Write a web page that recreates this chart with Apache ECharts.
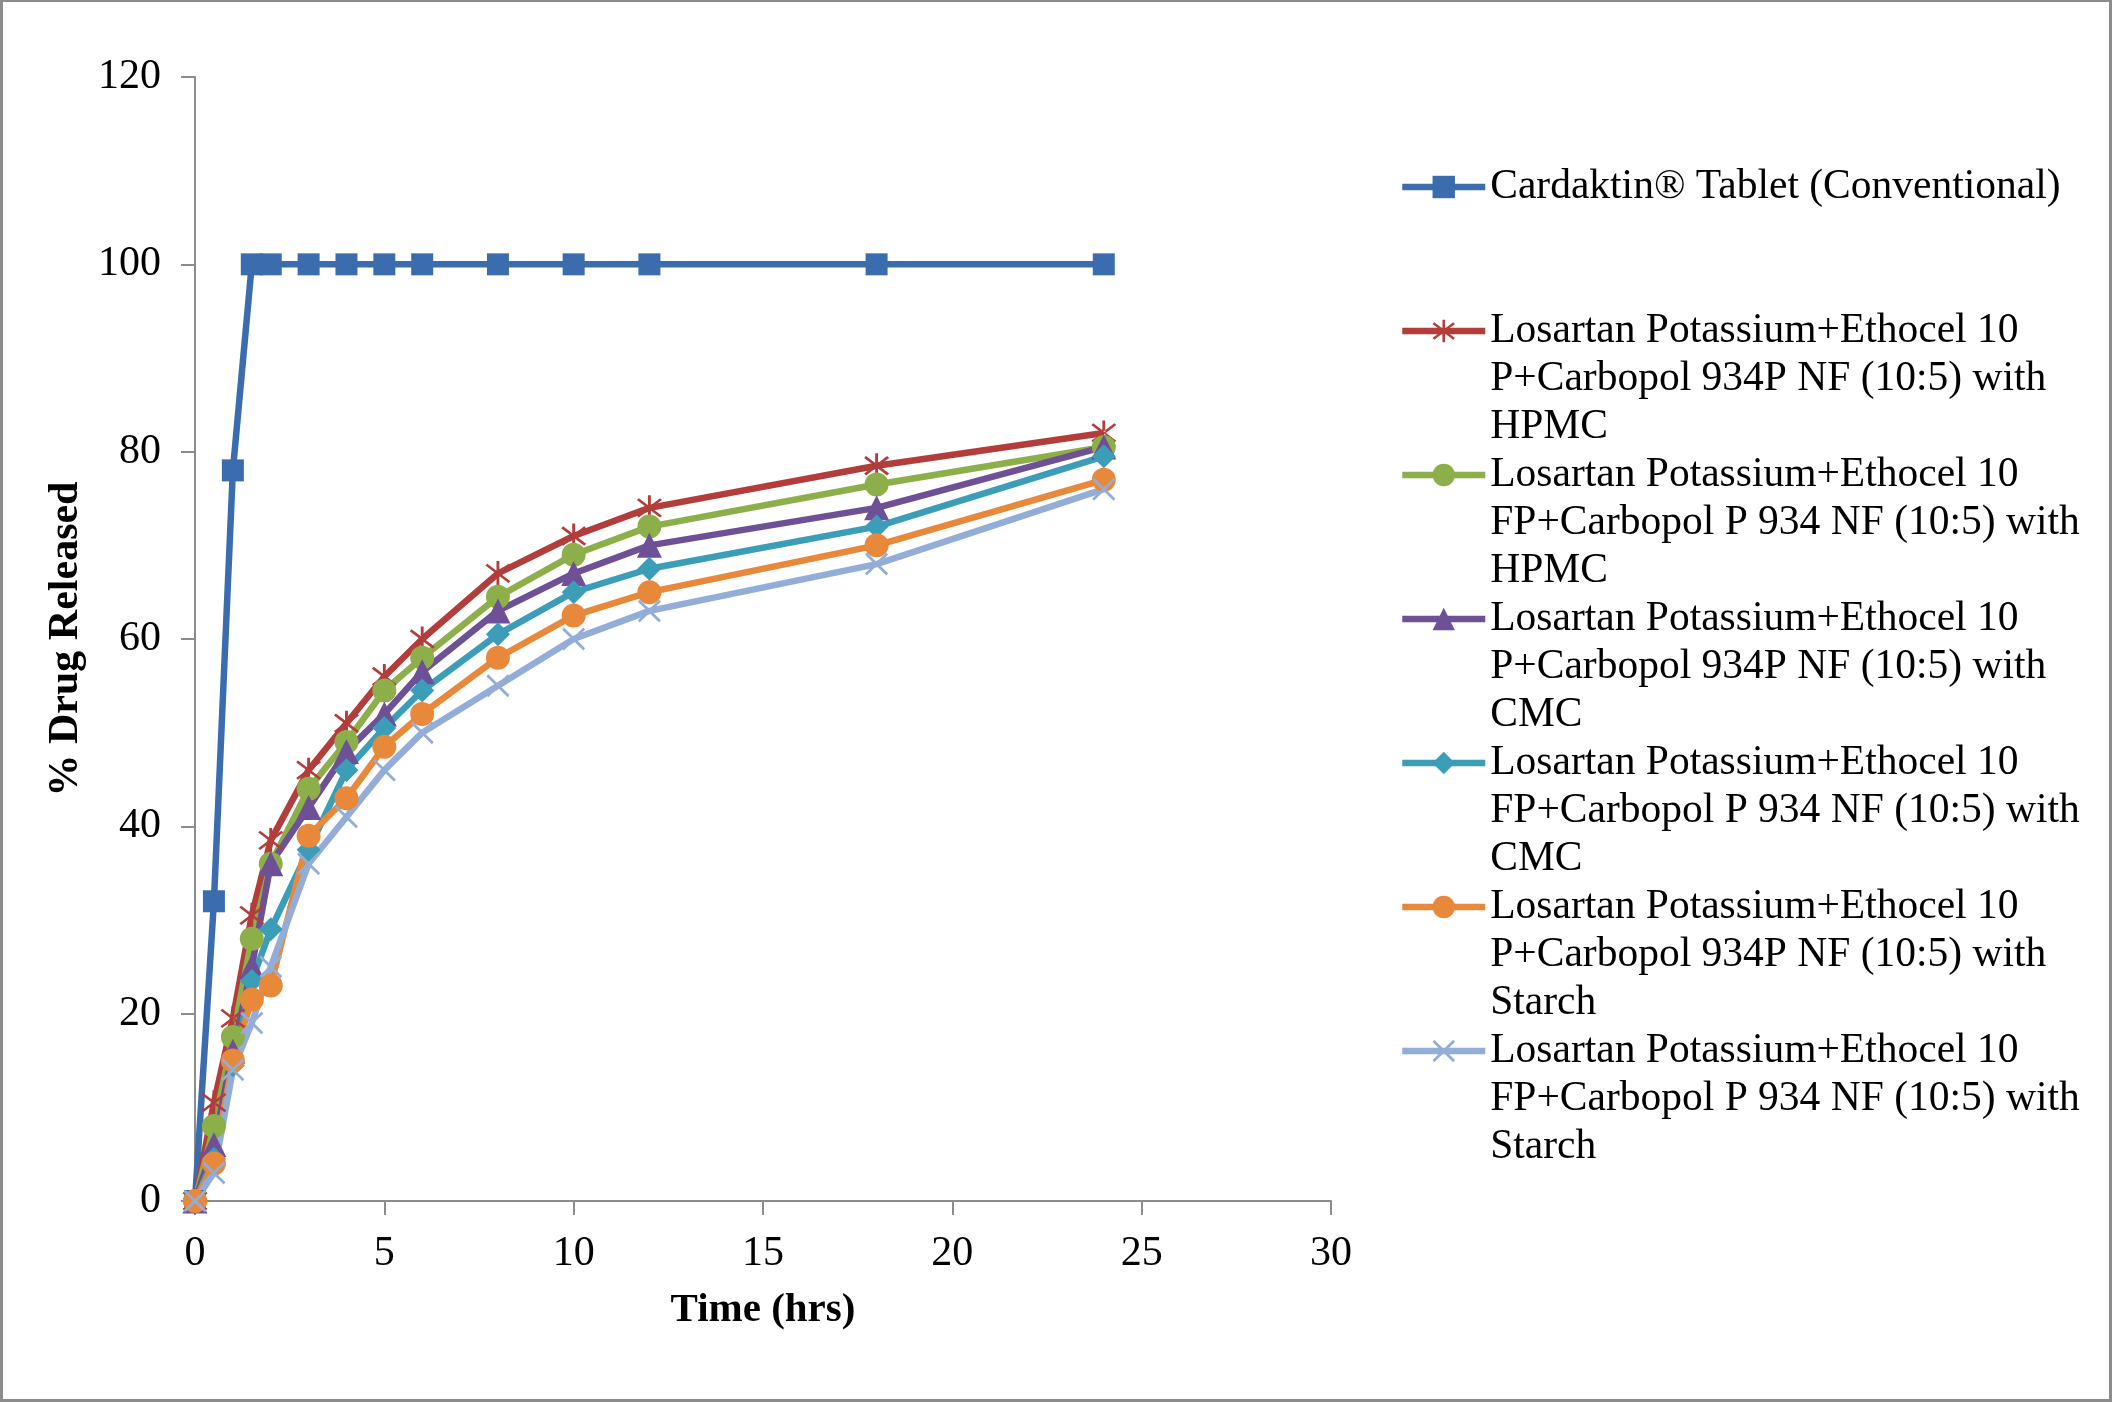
<!DOCTYPE html>
<html><head><meta charset="utf-8">
<script src="https://cdn.jsdelivr.net/npm/echarts@6/dist/echarts.min.js"></script>
<style>
html,body{margin:0;padding:0;background:#fff;}
#frame{position:absolute;left:0;top:0;width:2112px;height:1402px;box-sizing:border-box;border:3px solid #8c8c8c;border-top:2px solid #8c8c8c;}
#chart{position:absolute;left:0;top:0;width:2112px;height:1402px;}
</style></head>
<body>
<div id="chart"></div>
<div id="frame"></div>
<script>
// ---- data ----
const timeHrs = [0, 0.5, 1, 1.5, 2, 3, 4, 5, 6, 8, 10, 12, 18, 24];
const cardaktin = [0, 32, 78, 100, 100, 100, 100, 100, 100, 100, 100, 100, 100, 100];
const hpmcP   = [0, 10.5, 19.5, 30.5, 38.5, 46, 51, 56, 60, 67, 71, 74, 78.5, 82];
const hpmcFP  = [0, 8, 17.5, 28, 36, 44, 49, 54.5, 58, 64.5, 69, 72, 76.5, 80.5];
const cmcP    = [0, 6, 16, 25, 36, 42, 48, 52, 56.5, 63, 67, 70, 74, 80.5];
const cmcFP   = [0, 4.5, 14.5, 23.5, 29, 37.5, 46, 50.5, 54.5, 60.5, 65, 67.5, 72, 79.5];
const starchP = [0, 4, 15, 21.5, 23, 39, 43, 48.5, 52, 58, 62.5, 65, 70, 77];
const starchFP= [0, 3, 14, 19, 25, 36, 41, 46, 50, 55, 60, 63, 68, 76];
const seriesNames = [
  'Cardaktin® Tablet (Conventional)',
  'Losartan Potassium+Ethocel 10 P+Carbopol 934P NF (10:5) with HPMC',
  'Losartan Potassium+Ethocel 10 FP+Carbopol P 934 NF (10:5) with HPMC',
  'Losartan Potassium+Ethocel 10 P+Carbopol 934P NF (10:5) with CMC',
  'Losartan Potassium+Ethocel 10 FP+Carbopol P 934 NF (10:5) with CMC',
  'Losartan Potassium+Ethocel 10 P+Carbopol 934P NF (10:5) with Starch',
  'Losartan Potassium+Ethocel 10 FP+Carbopol P 934 NF (10:5) with Starch'
];
const legendLines = [
  ['Cardaktin® Tablet (Conventional)'],
  ['Losartan Potassium+Ethocel 10', 'P+Carbopol 934P NF (10:5) with', 'HPMC'],
  ['Losartan Potassium+Ethocel 10', 'FP+Carbopol P 934 NF (10:5) with', 'HPMC'],
  ['Losartan Potassium+Ethocel 10', 'P+Carbopol 934P NF (10:5) with', 'CMC'],
  ['Losartan Potassium+Ethocel 10', 'FP+Carbopol P 934 NF (10:5) with', 'CMC'],
  ['Losartan Potassium+Ethocel 10', 'P+Carbopol 934P NF (10:5) with', 'Starch'],
  ['Losartan Potassium+Ethocel 10', 'FP+Carbopol P 934 NF (10:5) with', 'Starch']
];
const allValues = [cardaktin, hpmcP, hpmcFP, cmcP, cmcFP, starchP, starchFP];

// ---- styles ----
const colors = ['#3B6DAE', '#B23D3B', '#8DAF4A', '#6E5097', '#3B9DB8', '#E7883A', '#92ADD8'];
const starPath = 'path://M9,0L11,0L11,20L9,20Z M1.34,3.75L17.34,17.75L18.66,16.25L2.66,2.25Z M2.66,17.75L18.66,3.75L17.34,2.25L1.34,16.25Z';
const xPath = 'path://M1.34,3.75L17.34,17.75L18.66,16.25L2.66,2.25Z M2.66,17.75L18.66,3.75L17.34,2.25L1.34,16.25Z';
const symbols = ['rect', starPath, 'circle', 'triangle', 'diamond', 'circle', xPath];
const symbolSizes = [22, 25, 24, 25, 24, 24, 23];
const font = "'Liberation Serif', 'Times New Roman', serif";

const series = allValues.map((vals, i) => ({
  name: seriesNames[i],
  type: 'line',
  data: timeHrs.map((t, j) => [t, vals[j]]),
  symbol: symbols[i],
  symbolSize: symbolSizes[i],
  showAllSymbol: true,
  lineStyle: { color: colors[i], width: 6.5 },
  itemStyle: { color: colors[i] },
  emphasis: { disabled: true },
  animation: false
}));

const chart = echarts.init(document.getElementById('chart'), null, { renderer: 'canvas' });
chart.setOption({
  backgroundColor: '#ffffff',
  animation: false,
  grid: { left: 195, right: 781, top: 77, bottom: 201, containLabel: false },
  xAxis: {
    type: 'value', min: 0, max: 30, interval: 5,
    name: 'Time (hrs)', nameLocation: 'middle', nameGap: 89,
    nameTextStyle: { fontFamily: font, fontSize: 41, fontWeight: 'bold', color: '#000' },
    axisLine: { show: true, onZero: false, lineStyle: { color: '#8c8c8c', width: 2 } },
    axisTick: { show: true, length: 14, lineStyle: { color: '#8c8c8c', width: 2 } },
    axisLabel: { fontFamily: font, fontSize: 42, color: '#000', margin: 32 },
    splitLine: { show: false }
  },
  yAxis: {
    type: 'value', min: 0, max: 120, interval: 20,
    name: '% Drug Released', nameLocation: 'middle', nameGap: 107, nameRotate: 90,
    nameTextStyle: { fontFamily: font, fontSize: 42, fontWeight: 'bold', color: '#000' },
    axisLine: { show: true, lineStyle: { color: '#8c8c8c', width: 2 } },
    axisTick: { show: true, length: 14, lineStyle: { color: '#8c8c8c', width: 2 } },
    axisLabel: { fontFamily: font, fontSize: 42, color: '#000', margin: 34 },
    splitLine: { show: false }
  },
  legend: {
    orient: 'vertical', left: 1399, top: 67, padding: 0,
    itemWidth: 83, itemHeight: 28, itemGap: -96,
    selectedMode: false,
    data: seriesNames,
    lineStyle: { width: 6.5 },
    formatter: function (name) {
      const lines = legendLines[seriesNames.indexOf(name)];
      const out = ['', ''].concat(lines);
      while (out.length < 5) out.push('');
      return out.join('\n');
    },
    textStyle: { fontFamily: font, fontSize: 41.5, lineHeight: 48, color: '#000', padding: 0 }
  },
  series: series
});
</script>
</body></html>
